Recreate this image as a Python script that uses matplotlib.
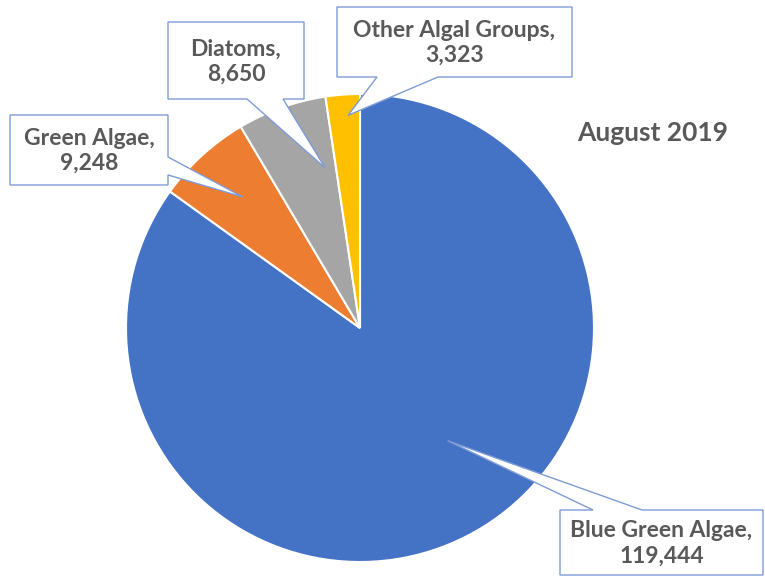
import matplotlib.pyplot as plt
from matplotlib.patches import Polygon
import numpy as np

# data
labels = ["Blue Green Algae", "Green Algae", "Diatoms", "Other Algal Groups"]
values = [119444, 9248, 8650, 3323]
colors = ["#4472C4", "#ED7D31", "#A5A5A5", "#FFC000"]
title = "August 2019"

H = 577
def Y(y):
    return H - y

fig = plt.figure(figsize=(7.65, 5.77), dpi=100)
ax = fig.add_axes([0, 0, 1, 1])

cx, cy, r = 360, Y(328), 234
wedges, _ = ax.pie(values, colors=colors, startangle=90, counterclock=False,
                   center=(cx, cy), radius=r,
                   wedgeprops=dict(edgecolor="white", linewidth=1.5))
ax.set_xlim(0, 765)
ax.set_ylim(0, H)
ax.set_aspect("equal")
ax.axis("off")

# callout layout: box (x0, y0, x1, y1) in image pixels, side of the pointer,
# pointer base along that side, pointer tip as (fraction along wedge, fraction of radius)
callouts = [
    ((560, 510, 763, 575), "top", (593, 642), (0.465, 0.61)),
    ((10, 115, 168, 185), "right", (157, 175), (0.53, 0.75)),
    ((168, 22, 304, 99), "bottom", (247, 283), (0.83, 0.70)),
    ((337, 7, 572, 77), "bottom", (377, 438), (0.62, 0.91)),
]

edge = "#7F9BD6"
for w, lab, val, (box, side, (a, b), (fa, fr)) in zip(wedges, labels, values, callouts):
    ang = np.deg2rad(w.theta2 - fa * (w.theta2 - w.theta1))
    tip = (cx + fr * r * np.cos(ang), cy + fr * r * np.sin(ang))
    x0, y0, x1, y1 = box
    if side == "bottom":
        pts = [(x0, Y(y0)), (x1, Y(y0)), (x1, Y(y1)), (b, Y(y1)), tip, (a, Y(y1)), (x0, Y(y1))]
    elif side == "right":
        pts = [(x0, Y(y0)), (x1, Y(y0)), (x1, Y(a)), tip, (x1, Y(b)), (x1, Y(y1)), (x0, Y(y1))]
    else:
        pts = [(x0, Y(y0)), (a, Y(y0)), tip, (b, Y(y0)), (x1, Y(y0)), (x1, Y(y1)), (x0, Y(y1))]
    ax.add_patch(Polygon(pts, closed=True, facecolor="white", edgecolor=edge,
                         linewidth=1.0, zorder=3))
    ax.text((x0 + x1) / 2, Y((y0 + y1) / 2 + 1), f"{lab},\n{val:,}", ha="center", va="center",
            fontsize=16.5, fontweight="bold", family="Lato", color="#595959",
            linespacing=1.25, zorder=4)

ax.text(653, Y(133), title, ha="center", va="center", fontsize=19,
        fontweight="bold", family="Lato", color="#595959")

fig.savefig("out.png", dpi=100)
